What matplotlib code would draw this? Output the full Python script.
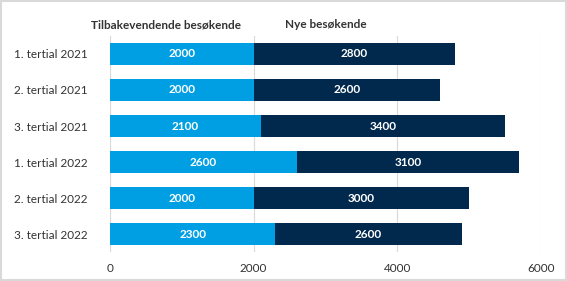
import numpy as np
import matplotlib.pyplot as plt
from matplotlib.patches import Rectangle

plt.rcParams['font.family'] = ['Lato', 'DejaVu Sans']

categories = ['1. tertial 2021', '2. tertial 2021', '3. tertial 2021',
              '1. tertial 2022', '2. tertial 2022', '3. tertial 2022']
returning = [2000, 2000, 2100, 2600, 2000, 2300]
new = [2800, 2600, 3400, 3100, 3000, 2600]
series_names = ['Tilbakevendende besøkende', 'Nye besøkende']
xticks = [0, 2000, 4000, 6000]

light_blue = '#009fe3'
navy = '#00294d'

fig = plt.figure(figsize=(5.67, 2.81), dpi=100)
ax = fig.add_axes([0.194, 0.103, 0.76, 0.769])

y = np.arange(len(categories))
ax.barh(y, returning, height=0.61, color=light_blue, zorder=2)
ax.barh(y, new, left=returning, height=0.61, color=navy, zorder=2)

for i in range(len(categories)):
    ax.text(returning[i] / 2, y[i], str(returning[i]), ha='center', va='center',
            color='white', fontsize=8.5, fontweight='bold', zorder=3)
    ax.text(returning[i] + new[i] / 2, y[i], str(new[i]), ha='center', va='center',
            color='white', fontsize=8.5, fontweight='bold', zorder=3)

ax.set_xlim(0, 6000)
ax.set_ylim(len(categories) - 0.5, -0.5)
ax.set_xticks(xticks)
ax.set_yticks(y)
ax.set_yticklabels(categories)
ax.tick_params(axis='both', length=0, labelsize=8.5, colors='#333333')
ax.tick_params(axis='y', pad=16)
ax.tick_params(axis='x', pad=8)
ax.grid(axis='x', color='#d9d9d9', linewidth=0.8, zorder=0)
for s in ax.spines.values():
    s.set_visible(False)

fig.text(166 / 567, 1 - 25 / 281, series_names[0], ha='center', va='center',
         fontsize=8.5, fontweight='bold', color='#333333')
fig.text(326 / 567, 1 - 25 / 281, series_names[1], ha='center', va='center',
         fontsize=8.5, fontweight='bold', color='#333333')

fig.patches.append(Rectangle((0.002, 0.003), 0.996, 0.994, transform=fig.transFigure,
                             fill=False, edgecolor='#d9d9d9', linewidth=1.5))

fig.savefig('out.png', dpi=100)
